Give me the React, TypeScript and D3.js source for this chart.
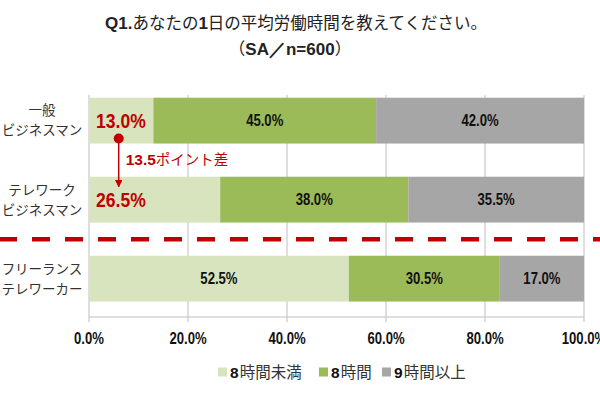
import React, { useEffect, useRef } from "react";
import * as d3 from "d3";

const categories = ["一般\nビジネスマン", "テレワーク\nビジネスマン", "フリーランス\nテレワーカー"];
const seriesNames = ["8時間未満", "8時間", "9時間以上"];
const under8 = [13.0, 26.5, 52.5];
const exactly8 = [45.0, 38.0, 30.5];
const over9 = [42.0, 35.5, 17.0];
const xTicks = [0, 20, 40, 60, 80, 100];
const diffLabel = "13.5";

const NUM_FONT = "'Liberation Sans', Arial, sans-serif";
const JP_FONT = "'Noto Sans CJK JP', 'Noto Sans', sans-serif";

// bold numbers squeezed horizontally for the Impact-like look
const numText = (parent: any, px: number, py: number, str: string, size: number, sx: number, anchor: string, fill: string) => {
    const g = parent.append("g").attr("transform", `translate(${px},${py}) scale(${sx},1)`);
    return g.append("text")
        .attr("text-anchor", anchor)
        .attr("dy", "0.36em")
        .attr("fill", fill)
        .style("font-family", NUM_FONT)
        .style("font-weight", "bold")
        .style("font-size", size + "px")
        .text(str);
};

const App = () => {
    const svgRef = useRef<SVGSVGElement>(null);

    useEffect(() => {
        const width = 600;
        const height = 395;
        const margin = { top: 95, right: 16, bottom: 78, left: 89 };
        const colors = ["#d7e4bd", "#9bbb59", "#a6a6a6"];

        const rows = categories.map((c, i) => ({
            cat: c,
            [seriesNames[0]]: under8[i],
            [seriesNames[1]]: exactly8[i],
            [seriesNames[2]]: over9[i],
        }));
        const stacked = d3.stack<any>().keys(seriesNames)(rows);

        const x = d3.scaleLinear().domain([0, 100]).range([margin.left, width - margin.right]);
        const y = d3
            .scaleBand()
            .domain(categories)
            .range([margin.top, height - margin.bottom])
            .paddingInner(0.42)
            .paddingOuter(0.115)
            .align(0.15);
        const color = d3.scaleOrdinal<string>().domain(seriesNames).range(colors);

        const svg = d3.select(svgRef.current).attr("width", width).attr("height", height);
        svg.selectAll("*").remove();

        // title
        const bold = (t: any) => t.style("font-family", NUM_FONT).style("font-weight", "bold").style("font-size", "17px");
        const title = svg.append("text").attr("x", 296).attr("y", 29).attr("text-anchor", "middle")
            .style("font-family", JP_FONT).style("font-size", "16.5px").attr("fill", "#222");
        bold(title.append("tspan").text("Q1."));
        title.append("tspan").text("あなたの");
        bold(title.append("tspan").text("1"));
        title.append("tspan").text("日の平均労働時間を教えてください。");

        const sub = svg.append("text").attr("x", 290).attr("y", 55).attr("text-anchor", "middle")
            .style("font-family", JP_FONT).style("font-size", "16.5px").attr("fill", "#222");
        sub.append("tspan").text("（");
        bold(sub.append("tspan").text("SA／n=600"));
        sub.append("tspan").text("）");

        const plotBottom = height - margin.bottom;

        // gridlines
        svg.append("g").selectAll("line").data(xTicks).enter().append("line")
            .attr("x1", (d) => x(d)).attr("x2", (d) => x(d))
            .attr("y1", margin.top).attr("y2", plotBottom + 5)
            .attr("stroke", "#bfbfbf").attr("stroke-width", 1);

        svg.append("line")
            .attr("x1", x(0)).attr("x2", x(100))
            .attr("y1", plotBottom).attr("y2", plotBottom)
            .attr("stroke", "#bfbfbf").attr("stroke-width", 1);

        // bars
        stacked.forEach((s) => {
            svg.append("g").selectAll("rect").data(s).enter().append("rect")
                .attr("x", (d) => x(d[0]))
                .attr("y", (d) => y(d.data.cat)!)
                .attr("width", (d) => x(d[1]) - x(d[0]))
                .attr("height", y.bandwidth())
                .attr("fill", color(s.key));
        });

        // bar labels
        stacked.forEach((s, si) => {
            s.forEach((d, i) => {
                const v = d[1] - d[0];
                const cy = y(d.data.cat)! + y.bandwidth() / 2;
                const highlight = si === 0 && i < 2;
                numText(
                    svg,
                    highlight ? x(0) + 7 : x((d[0] + d[1]) / 2),
                    cy,
                    v.toFixed(1) + "%",
                    highlight ? 19.5 : 16,
                    highlight ? 0.9 : 0.82,
                    highlight ? "start" : "middle",
                    highlight ? "#c00000" : "#111"
                );
            });
        });

        // category labels
        categories.forEach((c) => {
            const cy = y(c)! + y.bandwidth() / 2;
            const lines = c.split("\n");
            lines.forEach((l, li) => {
                svg.append("text")
                    .attr("x", 42)
                    .attr("y", cy + (li === 0 ? -10 : 10))
                    .attr("dy", "0.36em")
                    .attr("text-anchor", "middle")
                    .style("font-family", JP_FONT)
                    .style("font-size", "13.5px")
                    .attr("fill", "#333")
                    .text(l);
            });
        });

        // dashed separator
        const sepY = (y(categories[1])! + y.bandwidth() + y(categories[2])!) / 2;
        svg.append("line")
            .attr("x1", -1).attr("x2", width)
            .attr("y1", sepY).attr("y2", sepY)
            .attr("stroke", "#c00000").attr("stroke-width", 4.5)
            .attr("stroke-dasharray", "18 15");

        // difference annotation
        const ax = x(6);
        const y1 = y(categories[0])! + y.bandwidth() - 5;
        const y2 = y(categories[1])! + 10;
        svg.append("defs").append("marker")
            .attr("id", "arr").attr("viewBox", "0 0 10 10").attr("refX", 9).attr("refY", 5)
            .attr("markerWidth", 5).attr("markerHeight", 5).attr("orient", "auto")
            .append("path").attr("d", "M0,0 L10,5 L0,10 z").attr("fill", "#c00000");
        svg.append("line")
            .attr("x1", ax).attr("x2", ax).attr("y1", y1).attr("y2", y2)
            .attr("stroke", "#c00000").attr("stroke-width", 1.5)
            .attr("marker-end", "url(#arr)");
        svg.append("circle").attr("cx", ax).attr("cy", y1).attr("r", 5).attr("fill", "#c00000");

        const ann = svg.append("text")
            .attr("x", ax + 7)
            .attr("y", (y(categories[0])! + y.bandwidth() + y(categories[1])!) / 2)
            .attr("dy", "0.36em")
            .attr("fill", "#c00000")
            .style("font-family", JP_FONT).style("font-size", "14.5px");
        ann.append("tspan").text(diffLabel).style("font-family", NUM_FONT).style("font-weight", "bold").style("font-size", "15.5px");
        ann.append("tspan").text("ポイント差");

        // x axis labels
        xTicks.forEach((d) => {
            numText(svg, x(d), plotBottom + 21, d.toFixed(1) + "%", 16, 0.82, "middle", "#111");
        });

        // legend
        const legendX = [218, 319, 382];
        const ly = 372;
        seriesNames.forEach((n, i) => {
            const g = svg.append("g");
            g.append("rect").attr("x", legendX[i]).attr("y", ly - 4.5).attr("width", 9).attr("height", 9)
                .attr("fill", colors[i]);
            const t = g.append("text").attr("x", legendX[i] + 12).attr("y", ly).attr("dy", "0.36em")
                .style("font-family", JP_FONT).style("font-size", "15.5px").attr("fill", "#333");
            t.append("tspan").text(n.slice(0, 1)).style("font-family", NUM_FONT).style("font-weight", "bold").style("font-size", "15.5px").attr("fill", "#111");
            t.append("tspan").text(n.slice(1)).attr("dx", 1);
        });
    }, []);

    return (
        <div style={{ position: "absolute", left: 0, top: 0, background: "#fff" }}>
            <svg ref={svgRef} style={{ display: "block" }}></svg>
        </div>
    );
};

export default App;
